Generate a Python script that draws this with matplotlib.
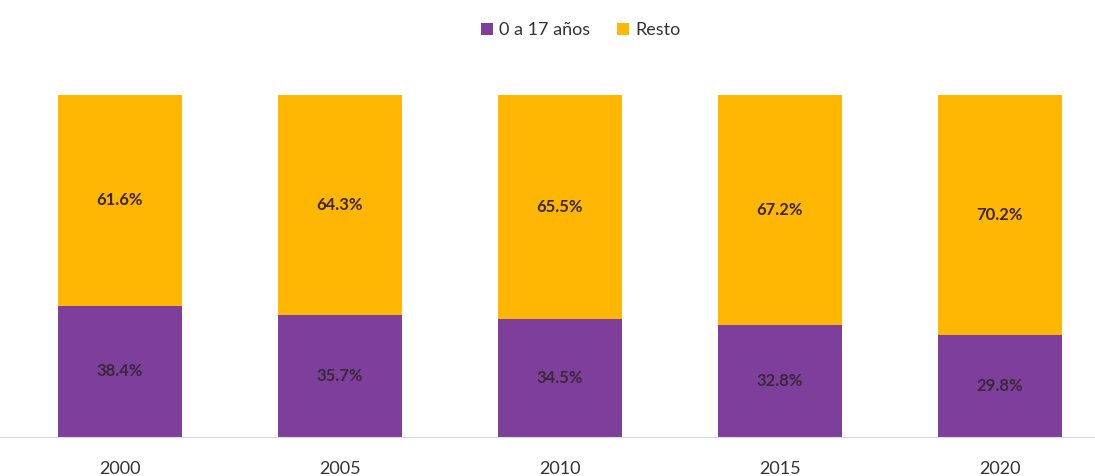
import matplotlib
matplotlib.use("Agg")
import matplotlib.pyplot as plt
import numpy as np

plt.rcParams['font.family'] = ['Lato', 'DejaVu Sans']

years = ["2000", "2005", "2010", "2015", "2020"]
menores = [38.4, 35.7, 34.5, 32.8, 29.8]
resto = [61.6, 64.3, 65.5, 67.2, 70.2]

purple = "#7D3F9B"
gold = "#FFB703"
text_col = "#3A2838"

fig = plt.figure(figsize=(10.95, 4.76), dpi=100)
ax = fig.add_axes([0, 0.082, 1, 0.718])

x = np.arange(len(years))
w = 0.56
ax.bar(x, menores, width=w, color=purple, label="0 a 17 años")
ax.bar(x, resto, width=w, bottom=menores, color=gold, label="Resto")

for i in range(len(years)):
    ax.text(x[i], menores[i] / 2, f"{menores[i]:.1f}%", ha="center", va="center",
            fontsize=12, fontweight="bold", color=text_col)
    ax.text(x[i], menores[i] + resto[i] / 2, f"{resto[i]:.1f}%", ha="center", va="center",
            fontsize=12, fontweight="bold", color=text_col)

ax.set_xlim(-0.545, 4.432)
ax.set_ylim(0, 100)
ax.set_xticks(x)
ax.set_xticklabels(years, fontsize=13, color="#333333")
ax.tick_params(axis="x", length=0, pad=17)
ax.set_yticks([])
for s in ["top", "right", "left"]:
    ax.spines[s].set_visible(False)
ax.spines["bottom"].set_color("#D9D9D9")

ax.legend(loc="center", bbox_to_anchor=(0.53, 1.19), ncol=2, frameon=False,
          fontsize=13, handlelength=0.7, handleheight=0.7, handletextpad=0.3,
          columnspacing=1.5, labelcolor="#333333")

fig.savefig("out.png", dpi=100)
